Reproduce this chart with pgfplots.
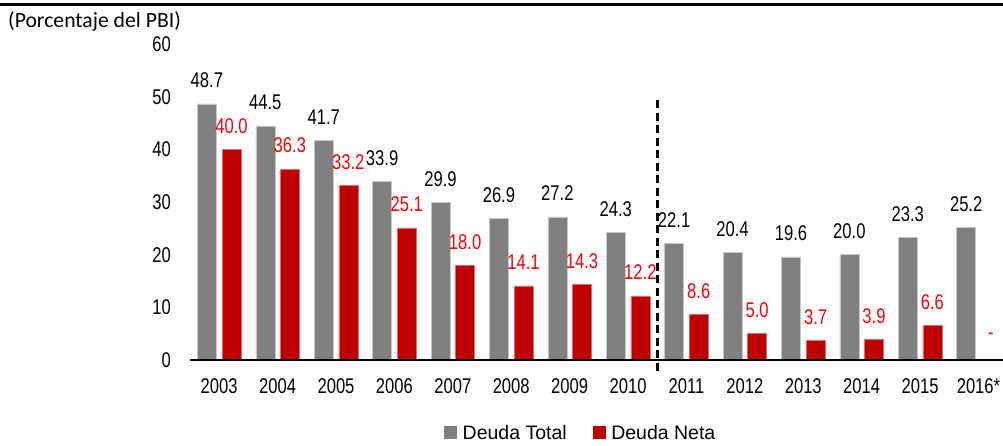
\documentclass[border=0pt]{standalone}
\usepackage{pgfplots}
\pgfplotsset{compat=1.18}
\usepackage{fontspec}
\setmainfont{Liberation Sans}
\newfontfamily\numfont[FakeStretch=0.78]{Liberation Sans}
\newfontfamily\legfont{Liberation Sans}
\newfontfamily\calfont{Carlito}
\definecolor{cgray}{HTML}{808080}
\definecolor{cgrayedge}{HTML}{C8C8C8}
\definecolor{cred}{HTML}{C00000}
\definecolor{crededge}{HTML}{E07070}
\definecolor{ctxtred}{HTML}{FF0000}
\begin{document}
\begin{tikzpicture}
\begin{axis}[
  at={(190bp,86bp)}, anchor=south west,
  scale only axis, width=813bp, height=315.6bp,
  xmin=-0.5, xmax=13.42, ymin=0, ymax=60,
  ybar=5.6bp, bar width=19bp,
  axis line style={draw=none},
  major tick length=0pt,
  xtick={0,...,13},
  xticklabels={2003,2004,2005,2006,2007,2008,2009,2010,2011,2012,2013,2014,2015,2016*},
  ytick={0,10,...,60},
  /pgf/number format/assume math mode=true,
  tick label style={font=\numfont\fontsize{21.3bp}{25bp}\selectfont},
  xticklabel style={anchor=center, yshift=-26bp, inner sep=0pt},
  yticklabel style={anchor=east, inner sep=0pt, xshift=-19bp},
  clip=false,
  nodes near coords,
  point meta=explicit symbolic,
  every node near coord/.append style={anchor=center, yshift=23.5bp, inner sep=0pt, font=\numfont\fontsize{21.3bp}{25bp}\selectfont},
  legend columns=2,
  legend style={at={(0.4828,-0.2313)}, anchor=center, draw=none, fill=none,
    font=\legfont\fontsize{19.5bp}{23bp}\selectfont,
    nodes={inner xsep=5.5bp, inner ysep=0pt},
    /tikz/every even column/.append style={column sep=20.5bp}},
  legend image code/.code={\path[#1, draw=none] (0bp,-6.5bp) rectangle (13bp,6.5bp);},
]
\addplot[fill=cgray, draw=cgrayedge, line width=0.6bp,
  every node near coord/.append style={text=black}] table[meta=label] {
x y label
0 48.7 48.7
1 44.5 44.5
2 41.7 41.7
3 33.9 33.9
4 29.9 29.9
5 26.9 26.9
6 27.2 27.2
7 24.3 24.3
8 22.1 22.1
9 20.4 20.4
10 19.6 19.6
11 20.0 20.0
12 23.3 23.3
13 25.2 25.2
};
\addlegendentry{Deuda Total}
\addplot[fill=cred, draw=crededge, line width=0.6bp,
  every node near coord/.append style={text=ctxtred}] table[meta=label] {
x y label
0 40.0 40.0
1 36.3 36.3
2 33.2 33.2
3 25.1 25.1
4 18.0 18.0
5 14.1 14.1
6 14.3 14.3
7 12.2 12.2
8 8.6 8.6
9 5.0 5.0
10 3.7 3.7
11 3.9 3.9
12 6.6 6.6
13 0 -
};
\addlegendentry{Deuda Neta}
\draw[line width=1.5bp] (rel axis cs:0,0) -- (rel axis cs:1,0);
\draw[line width=2.7bp, dash pattern=on 8bp off 4.5bp] (axis cs:7.5,49.4) -- (axis cs:7.5,-2.5);
\end{axis}
\draw[line width=3bp] (0bp,441.8bp) -- (1003bp,441.8bp);
\node[anchor=west, inner sep=0pt, font=\calfont\fontsize{21.7bp}{26bp}\selectfont] at (8bp,425bp) {(Porcentaje del PBI)};
\pgfresetboundingbox
\path[use as bounding box] (0bp,0bp) rectangle (1003bp,446bp);
\end{tikzpicture}
\end{document}
